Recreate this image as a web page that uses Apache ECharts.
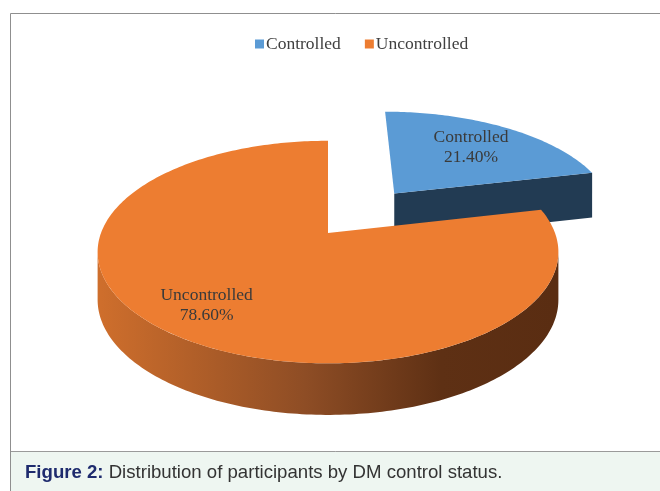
<!DOCTYPE html>
<html>
<head>
    <meta charset="UTF-8">
    <title>DM control status</title>
    <script src="https://cdn.jsdelivr.net/npm/echarts/dist/echarts.min.js"></script>
    <style>
        body { margin: 0; background: #fff; }
    </style>
</head>
<body>
    <div id="chart" style="width: 660px;height:491px;"></div>
    <script type="text/javascript">
        // Data
        var categories = ['Controlled', 'Uncontrolled'];
        var values = [21.4, 78.6];

        // Look of the 3D pie (Excel style)
        var topColors = ['#5B9BD5', '#ED7D31'];
        var sideColors = ['#223B53', null]; // orange side uses a gradient
        var explode = [0.5, 0];
        var labelR = [0.67, 0.77];

        // perspective projection of the tilted disc
        var CX = 328, CY = 233, K = 227, KY = 108, PERSP = 0.171, H = 47;

        function proj(u, v, drop) {
            var den = 1 + PERSP * v;
            return [CX + K * u / den, CY - KY * v / den + (drop ? H / Math.sqrt(den) : 0)];
        }

        var total = values.reduce(function (a, b) { return a + b; }, 0);

        function arc(ou, ov, a0, a1, drop) {
            var pts = [];
            var n = Math.max(2, Math.ceil(Math.abs(a1 - a0) / (Math.PI / 180)));
            for (var i = 0; i <= n; i++) {
                var a = a0 + (a1 - a0) * i / n;
                pts.push(proj(ou + Math.sin(a), ov + Math.cos(a), drop));
            }
            return pts;
        }

        function renderSlice(params, api) {
            var idx = params.seriesIndex;
            var before = 0;
            for (var i = 0; i < idx; i++) before += values[i];
            var start = before / total * Math.PI * 2;
            var end = start + api.value(0) / total * Math.PI * 2;
            var mid = (start + end) / 2;
            var ou = explode[idx] * Math.sin(mid);
            var ov = explode[idx] * Math.cos(mid);
            var children = [];
            var sideFill = sideColors[idx] || new echarts.graphic.LinearGradient(CX - K, 0, CX + K, 0, [
                { offset: 0, color: '#CE6E2C' },
                { offset: 0.45, color: '#8E4D25' },
                { offset: 0.75, color: '#5E3014' },
                { offset: 1, color: '#5A2D12' }
            ], true);

            // radial face at the end of the slice (visible when it faces the viewer)
            if (-Math.sin(end) < -0.01) {
                var eu = ou + Math.sin(end), ev = ov + Math.cos(end);
                children.push({
                    type: 'polygon',
                    shape: { points: [proj(ou, ov, 0), proj(eu, ev, 0), proj(eu, ev, 1), proj(ou, ov, 1)] },
                    style: { fill: sideColors[0] }
                });
            }
            // outer curved side, front part only
            var edge = Math.acos(-PERSP);
            var lo = Math.max(start, edge), hi = Math.min(end, Math.PI * 2 - edge);
            if (hi > lo) {
                var pts = arc(ou, ov, lo, hi, 0).concat(arc(ou, ov, hi, lo, 1));
                children.push({ type: 'polygon', shape: { points: pts }, style: { fill: sideFill } });
            }
            // top face
            children.push({
                type: 'polygon',
                shape: { points: [proj(ou, ov, 0)].concat(arc(ou, ov, start, end, 0)) },
                style: { fill: topColors[idx] }
            });
            // data label
            var lp = proj(ou + labelR[idx] * Math.sin(mid), ov + labelR[idx] * Math.cos(mid), 0);
            children.push({
                type: 'text',
                style: {
                    text: categories[idx] + '\n' + (api.value(0) / total * 100).toFixed(2) + '%',
                    x: lp[0], y: lp[1],
                    align: 'center', verticalAlign: 'middle',
                    font: '17.5px "Liberation Serif"', lineHeight: 20,
                    fill: '#3A3A3A'
                }
            });
            return { type: 'group', children: children };
        }

        var myChart = echarts.init(document.getElementById('chart'));

        var option = {
            animation: false,
            legend: {
                data: categories,
                left: 250,
                top: 30,
                itemWidth: 9,
                itemHeight: 9,
                itemGap: 24,
                icon: 'rect',
                textStyle: { fontFamily: 'Liberation Serif', fontSize: 17.5, color: '#404040', padding: [0, 0, 0, -3] }
            },
            title: {
                text: '{b|Figure 2:} Distribution of participants by DM control status.',
                left: 25,
                top: 463,
                padding: 0,
                textStyle: {
                    fontFamily: 'Liberation Sans', fontSize: 18.6, fontWeight: 'normal', color: '#333333',
                    rich: { b: { fontFamily: 'Liberation Sans', fontSize: 18.6, fontWeight: 'bold', color: '#1E2B6E' } }
                }
            },
            graphic: [
                { type: 'rect', shape: { x: 10.5, y: 451.5, width: 660, height: 50 }, style: { fill: '#EEF6F1', stroke: '#9A9A9A' }, z: -1 },
                { type: 'line', shape: { x1: 10.5, y1: 13.5, x2: 660, y2: 13.5 }, style: { stroke: '#8F8F8F', lineWidth: 1 }, z: -1 },
                { type: 'line', shape: { x1: 10.5, y1: 13.5, x2: 10.5, y2: 491 }, style: { stroke: '#8F8F8F', lineWidth: 1 }, z: -1 }
            ],
            series: categories.map(function (name, i) {
                return {
                    name: name,
                    type: 'custom',
                    coordinateSystem: 'none',
                    itemStyle: { color: topColors[i] },
                    emphasis: { disabled: true },
                    renderItem: renderSlice,
                    data: [[values[i]]]
                };
            })
        };

        myChart.setOption(option);
    </script>
</body>
</html>
